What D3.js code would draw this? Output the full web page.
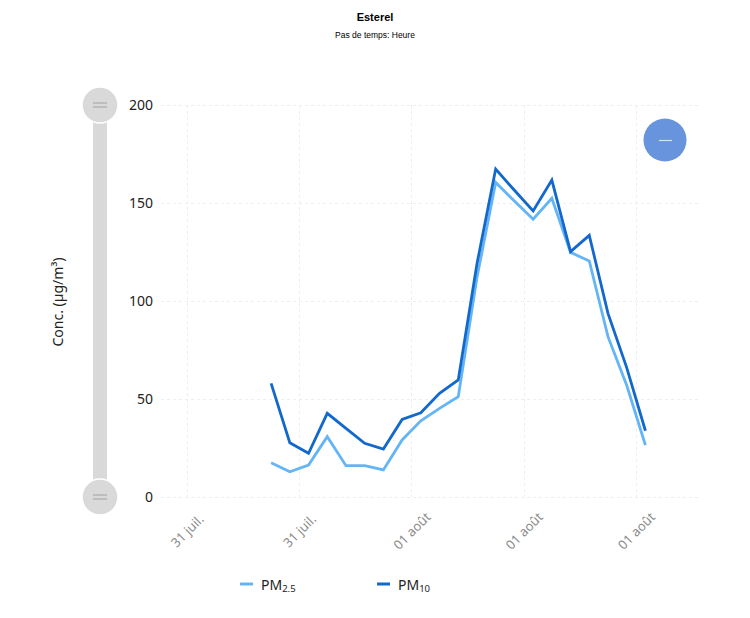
<!DOCTYPE html>
<html>
<head>
<meta charset="utf-8">
<script src="https://cdn.jsdelivr.net/npm/d3@7"></script>
<style>
  html, body { margin: 0; padding: 0; background: #fff; }
  svg { display: block; }
</style>
</head>
<body>
<svg id="chart" width="750" height="618"></svg>
<script>
// ---- Data ----
const title = "Esterel";
const subtitle = "Pas de temps: Heure";
const yLabel = "Conc. (µg/m³)";
// hourly timestamps 31 Jul 16:00 -> 01 Aug 12:00
const times = [
  "2023-07-31T16:00", "2023-07-31T17:00", "2023-07-31T18:00", "2023-07-31T19:00",
  "2023-07-31T20:00", "2023-07-31T21:00", "2023-07-31T22:00", "2023-07-31T23:00",
  "2023-08-01T00:00", "2023-08-01T01:00", "2023-08-01T02:00", "2023-08-01T03:00",
  "2023-08-01T04:00", "2023-08-01T05:00", "2023-08-01T06:00", "2023-08-01T07:00",
  "2023-08-01T08:00", "2023-08-01T09:00", "2023-08-01T10:00", "2023-08-01T11:00",
  "2023-08-01T12:00"
];
const pm25 = [17.5, 12.9, 16.3, 30.8, 16.0, 16.0, 13.8, 29.1, 38.9, 45.2, 51.2,
              112, 160.5, 151, 141.7, 152.4, 124.8, 120.4, 81.8, 57, 26.5];
const pm10 = [58.0, 27.7, 22.3, 42.7, 35.0, 27.4, 24.5, 39.6, 43.0, 52.9, 59.7,
              119, 167.3, 156.5, 145.9, 161.7, 125.2, 133.5, 93.7, 66, 33.8];
const xTicks = ["2023-07-31T12:00", "2023-07-31T18:00", "2023-08-01T00:00",
                "2023-08-01T06:00", "2023-08-01T12:00"];
const xTickLabels = ["31 juil.", "31 juil.", "01 août", "01 août", "01 août"];
const xDomain = ["2023-07-31T10:37", "2023-08-01T15:25"];
const yTicks = [0, 50, 100, 150, 200];
const seriesNames = [
  { main: "PM", sub: "2.5" },
  { main: "PM", sub: "10" }
];
const colors = ["#64b5f6", "#1368cc"];

// ---- Setup ----
const parse = d3.timeParse("%Y-%m-%dT%H:%M");
const svg = d3.select("#chart");
const W = 750, H = 618;
const plot = { left: 161, right: 700, top: 105, bottom: 497 };
const font = "'Noto Sans', 'Open Sans', sans-serif";

const x = d3.scaleTime()
  .domain(xDomain.map(parse))
  .range([plot.left, plot.right]);
const y = d3.scaleLinear()
  .domain([0, 200])
  .range([plot.bottom, plot.top]);

// Title
svg.append("text")
  .attr("x", W / 2).attr("y", 21)
  .attr("text-anchor", "middle")
  .attr("font-family", "'Liberation Sans', Arial, sans-serif")
  .attr("font-weight", "bold")
  .attr("font-size", 11)
  .attr("fill", "#000")
  .text(title);
svg.append("text")
  .attr("x", W / 2).attr("y", 38)
  .attr("text-anchor", "middle")
  .attr("font-family", "'Liberation Sans', Arial, sans-serif")
  .attr("font-size", 8.5)
  .attr("fill", "#000")
  .text(subtitle);

// Grid: horizontal
const grid = svg.append("g").attr("stroke", "#eeeeee").attr("stroke-width", 1)
  .attr("stroke-dasharray", "3,3");
grid.selectAll("line.h").data(yTicks).join("line")
  .attr("class", "h")
  .attr("x1", plot.left).attr("x2", plot.right)
  .attr("y1", d => Math.round(y(d)) + 0.5).attr("y2", d => Math.round(y(d)) + 0.5);
// Grid: vertical
grid.selectAll("line.v").data(xTicks).join("line")
  .attr("class", "v")
  .attr("x1", d => Math.round(x(parse(d))) + 0.5).attr("x2", d => Math.round(x(parse(d))) + 0.5)
  .attr("y1", plot.top).attr("y2", plot.bottom);

// Y axis labels
const yAxis = d3.axisLeft(y).tickValues(yTicks).tickSize(0).tickPadding(0);
const gy = svg.append("g").attr("transform", `translate(153,0)`).call(yAxis);
gy.select(".domain").remove();
gy.selectAll("text")
  .attr("font-family", font)
  .attr("font-size", 14)
  .attr("fill", "#222")
  .attr("dy", "0.35em");

// X axis labels
const xAxis = d3.axisBottom(x).tickValues(xTicks.map(parse))
  .tickSize(0).tickFormat((d, i) => xTickLabels[i]);
const gx = svg.append("g").attr("transform", `translate(0,${plot.bottom})`).call(xAxis);
gx.select(".domain").remove();
gx.selectAll(".tick text")
  .attr("font-family", font)
  .attr("font-size", 13)
  .attr("fill", "#8a8a8a")
  .attr("text-anchor", "middle")
  .attr("dy", "0.35em")
  .attr("y", 34)
  .attr("transform", "rotate(-45 0 34)");

// Y axis title
svg.append("text")
  .attr("transform", "translate(63,302) rotate(-90)")
  .attr("text-anchor", "middle")
  .attr("font-family", font)
  .attr("font-size", 14)
  .attr("fill", "#222")
  .text(yLabel);

// Scrollbar (vertical)
const sb = svg.append("g");
sb.append("rect")
  .attr("x", 93).attr("y", plot.top).attr("width", 14)
  .attr("height", plot.bottom - plot.top)
  .attr("fill", "#d9d9d9");
[plot.top, plot.bottom].forEach(cy => {
  sb.append("circle").attr("cx", 100).attr("cy", cy).attr("r", 18)
    .attr("fill", "#d9d9d9").attr("stroke", "#ffffff").attr("stroke-width", 1.5);
  [-2, 2].forEach(dy => {
    sb.append("line").attr("x1", 93).attr("x2", 107)
      .attr("y1", cy + dy).attr("y2", cy + dy)
      .attr("stroke", "#a0a0a0").attr("stroke-width", 1);
  });
});

// Lines (points at middle of hourly cells)
const mid = t => d3.timeMinute.offset(parse(t), 30);
const line = d3.line().x(d => x(mid(d.t))).y(d => y(d.v));
[pm25, pm10].forEach((vals, i) => {
  const data = times.map((t, k) => ({ t, v: vals[k] }));
  svg.append("path")
    .datum(data)
    .attr("fill", "none")
    .attr("stroke", colors[i])
    .attr("stroke-width", 2.8)
    .attr("stroke-linejoin", "miter")
    .attr("d", line);
});

// Zoom-out button
svg.append("circle").attr("cx", 665).attr("cy", 140).attr("r", 21.5)
  .attr("fill", "#6794dc");
svg.append("line").attr("x1", 659).attr("x2", 672).attr("y1", 140.5).attr("y2", 140.5)
  .attr("stroke", "#d6e2f6").attr("stroke-width", 1.2);

// Legend
const legendX = [240, 377];
seriesNames.forEach((s, i) => {
  const g = svg.append("g").attr("transform", `translate(${legendX[i]},584)`);
  g.append("line").attr("x1", 0).attr("x2", 13).attr("y1", 0).attr("y2", 0)
    .attr("stroke", colors[i]).attr("stroke-width", 3);
  const t = g.append("text").attr("x", 21).attr("y", 5.5)
    .attr("font-family", font).attr("font-size", 14).attr("fill", "#222");
  t.append("tspan").text(s.main);
  t.append("tspan").attr("font-size", 9.5).attr("dy", 2.5).text(s.sub);
});
</script>
</body>
</html>
